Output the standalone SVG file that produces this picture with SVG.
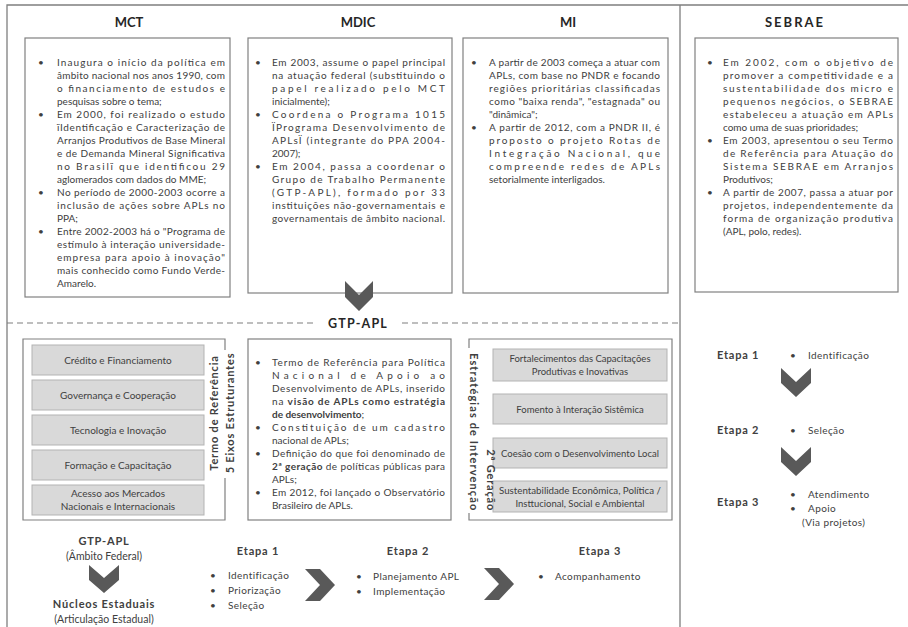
<svg xmlns="http://www.w3.org/2000/svg" width="908" height="627" viewBox="0 0 908 627">
<style>
.frame{stroke:#7f7f7f;stroke-width:1.3;fill:none}
.dash{stroke:#7f7f7f;stroke-width:1.2;stroke-dasharray:6 4;fill:none}
.box{fill:#fff;stroke:#808080;stroke-width:1.2}
.ln{stroke:#808080;stroke-width:1.2;fill:none}
.gbox{fill:#d9d9d9;stroke:#b3b3b3;stroke-width:1}
.t{font-family:Lato,'Liberation Sans',sans-serif;font-size:10px;fill:#404040}
.b{font-weight:bold}
.c{text-anchor:middle}
.h{font-family:Lato,'Liberation Sans',sans-serif;font-size:13px;font-weight:bold;fill:#262626;text-anchor:middle}
.v{font-family:Lato,'Liberation Sans',sans-serif;font-size:11px;font-weight:bold;fill:#404040;letter-spacing:0.8px}
.e{font-family:Lato,'Liberation Sans',sans-serif;font-size:11px;font-weight:bold;fill:#404040;letter-spacing:0.8px}
.chev{fill:#595959}
</style>
<g id="frame">
<path class="frame" d="M7,627 V5 H908 M680,5 V627"/>
<path class="dash" d="M7,323 H316 M402,323 H680"/>
<text class="h" x="358" y="328" style="font-size:12.5px;letter-spacing:1.2px">GTP-APL</text>
</g>
<g id="mct">
<text class="h" x="129" y="27">MCT</text>
<rect class="box" x="25" y="38" width="205" height="259"/>
<g class="t">
<text x="38" y="65.5">•</text><text x="38" y="117.5">•</text><text x="38" y="195.5">•</text><text x="38" y="234.5">•</text>
<text x="57" y="65.5" textLength="168" lengthAdjust="spacing">Inaugura o início da política em</text>
<text x="57" y="78.5" textLength="168" lengthAdjust="spacing">âmbito nacional nos anos 1990, com</text>
<text x="57" y="91.5" textLength="168" lengthAdjust="spacing">o financiamento de estudos e</text>
<text x="57" y="104.5">pesquisas sobre o tema;</text>
<text x="57" y="117.5" textLength="168" lengthAdjust="spacing">Em 2000, foi realizado o estudo</text>
<text x="57" y="130.5" textLength="168" lengthAdjust="spacing">ïIdentificação e Caracterização de</text>
<text x="57" y="143.5" textLength="168" lengthAdjust="spacing">Arranjos Produtivos de Base Mineral</text>
<text x="57" y="156.5" textLength="168" lengthAdjust="spacing">e de Demanda Mineral Significativa</text>
<text x="57" y="169.5" textLength="168" lengthAdjust="spacing">no Brasilï que identificou 29</text>
<text x="57" y="182.5">aglomerados com dados do MME;</text>
<text x="57" y="195.5" textLength="168" lengthAdjust="spacing">No período de 2000-2003 ocorre a</text>
<text x="57" y="208.5" textLength="168" lengthAdjust="spacing">inclusão de ações sobre APLs no</text>
<text x="57" y="221.5">PPA;</text>
<text x="57" y="234.5" textLength="168" lengthAdjust="spacing">Entre 2002-2003 há o "Programa de</text>
<text x="57" y="247.5" textLength="168" lengthAdjust="spacing">estímulo à interação universidade-</text>
<text x="57" y="260.5" textLength="168" lengthAdjust="spacing">empresa para apoio à inovação"</text>
<text x="57" y="273.5" textLength="168" lengthAdjust="spacing">mais conhecido como Fundo Verde-</text>
<text x="57" y="286.5">Amarelo.</text>
</g>
</g>
<g id="mdic">
<text class="h" x="358" y="27">MDIC</text>
<rect class="box" x="248" y="38" width="204" height="255"/>
<g class="t">
<text x="255" y="65.5">•</text><text x="255" y="117.5">•</text><text x="255" y="169.5">•</text>
<text x="272" y="65.5" textLength="173" lengthAdjust="spacing">Em 2003, assume o papel principal</text>
<text x="272" y="78.5" textLength="173" lengthAdjust="spacing">na atuação federal (substituindo o</text>
<text x="272" y="91.5" textLength="173" lengthAdjust="spacing">papel realizado pelo MCT</text>
<text x="272" y="104.5">inicialmente);</text>
<text x="272" y="117.5" textLength="173" lengthAdjust="spacing">Coordena o Programa 1015</text>
<text x="272" y="130.5" textLength="173" lengthAdjust="spacing">ÏPrograma Desenvolvimento de</text>
<text x="272" y="143.5" textLength="173" lengthAdjust="spacing">APLsÏ (integrante do PPA 2004-</text>
<text x="272" y="156.5">2007);</text>
<text x="272" y="169.5" textLength="173" lengthAdjust="spacing">Em 2004, passa a coordenar o</text>
<text x="272" y="182.5" textLength="173" lengthAdjust="spacing">Grupo de Trabalho Permanente</text>
<text x="272" y="195.5" textLength="173" lengthAdjust="spacing">(GTP-APL), formado por 33</text>
<text x="272" y="208.5" textLength="173" lengthAdjust="spacing">instituições não-governamentais e</text>
<text x="272" y="221.5" textLength="173" lengthAdjust="spacing">governamentais de âmbito nacional.</text>
</g>
</g>
<g id="mi">
<text class="h" x="568" y="27">MI</text>
<rect class="box" x="463" y="38" width="205" height="255"/>
<g class="t">
<text x="471" y="65.5">•</text><text x="471" y="130.5">•</text>
<text x="489" y="65.5" textLength="171" lengthAdjust="spacing">A partir de 2003 começa a atuar com</text>
<text x="489" y="78.5" textLength="171" lengthAdjust="spacing">APLs, com base no PNDR e focando</text>
<text x="489" y="91.5" textLength="171" lengthAdjust="spacing">regiões prioritárias classificadas</text>
<text x="489" y="104.5" textLength="171" lengthAdjust="spacing">como "baixa renda", "estagnada" ou</text>
<text x="489" y="117.5">"dinâmica";</text>
<text x="489" y="130.5" textLength="171" lengthAdjust="spacing">A partir de 2012, com a PNDR II, é</text>
<text x="489" y="143.5" textLength="171" lengthAdjust="spacing">proposto o projeto Rotas de</text>
<text x="489" y="156.5" textLength="171" lengthAdjust="spacing">Integração Nacional, que</text>
<text x="489" y="169.5" textLength="171" lengthAdjust="spacing">compreende redes de APLs</text>
<text x="489" y="182.5">setorialmente interligados.</text>
</g>
</g>
<g id="sebrae">
<text class="h" x="795" y="27" style="letter-spacing:2px">SEBRAE</text>
<rect class="box" x="695" y="38" width="203" height="254"/>
<g class="t">
<text x="707" y="65.5">•</text><text x="707" y="143.5">•</text><text x="707" y="195.5">•</text>
<text x="723" y="65.5" textLength="170" lengthAdjust="spacing">Em 2002, com o objetivo de</text>
<text x="723" y="78.5" textLength="170" lengthAdjust="spacing">promover a competitividade e a</text>
<text x="723" y="91.5" textLength="170" lengthAdjust="spacing">sustentabilidade dos micro e</text>
<text x="723" y="104.5" textLength="170" lengthAdjust="spacing">pequenos negócios, o SEBRAE</text>
<text x="723" y="117.5" textLength="170" lengthAdjust="spacing">estabeleceu a atuação em APLs</text>
<text x="723" y="130.5">como uma de suas prioridades;</text>
<text x="723" y="143.5" textLength="170" lengthAdjust="spacing">Em 2003, apresentou o seu Termo</text>
<text x="723" y="156.5" textLength="170" lengthAdjust="spacing">de Referência para Atuação do</text>
<text x="723" y="169.5" textLength="170" lengthAdjust="spacing">Sistema SEBRAE em Arranjos</text>
<text x="723" y="182.5">Produtivos;</text>
<text x="723" y="195.5" textLength="170" lengthAdjust="spacing">A partir de 2007, passa a atuar por</text>
<text x="723" y="208.5" textLength="170" lengthAdjust="spacing">projetos, independentemente da</text>
<text x="723" y="221.5" textLength="170" lengthAdjust="spacing">forma de organização produtiva</text>
<text x="723" y="234.5">(APL, polo, redes).</text>
</g>
</g>
<g id="eixos">
<path class="ln" d="M225,350 V339 H23 V520 H225 V478"/>
<rect class="gbox" x="32" y="345" width="172" height="30"/>
<rect class="gbox" x="32" y="380" width="172" height="30"/>
<rect class="gbox" x="32" y="415" width="172" height="30"/>
<rect class="gbox" x="32" y="450" width="172" height="30"/>
<rect class="gbox" x="32" y="485" width="172" height="30"/>
<g class="t c">
<text x="118" y="363.5">Crédito e Financiamento</text>
<text x="118" y="398.5">Governança e Cooperação</text>
<text x="118" y="433.5">Tecnologia e Inovação</text>
<text x="118" y="468.5">Formação e Capacitação</text>
<text x="118" y="496.5">Acesso aos Mercados</text>
<text x="118" y="509.5">Nacionais e Internacionais</text>
</g>
<text class="v c" transform="translate(218,413) rotate(-90)">Termo de Referência</text>
<text class="v c" transform="translate(234,413) rotate(-90)">5 Eixos Estruturantes</text>
</g>
<g id="gtp">
<rect class="box" x="248" y="339" width="203" height="181"/>
<g class="t">
<text x="255" y="365.5">•</text><text x="255" y="430.5">•</text><text x="255" y="456.5">•</text><text x="255" y="495.5">•</text>
<text x="272" y="365.5" textLength="173" lengthAdjust="spacing">Termo de Referência para Política</text>
<text x="272" y="378.5" textLength="173" lengthAdjust="spacing">Nacional de Apoio ao</text>
<text x="272" y="391.5" textLength="173" lengthAdjust="spacing">Desenvolvimento de APLs, inserido</text>
<text x="272" y="404.5" textLength="173" lengthAdjust="spacing">na <tspan class="b">visão de APLs como estratégia</tspan></text>
<text x="272" y="417.5"><tspan class="b">de desenvolvimento</tspan>;</text>
<text x="272" y="430.5" textLength="173" lengthAdjust="spacing">Constituição de um cadastro</text>
<text x="272" y="443.5">nacional de APLs;</text>
<text x="272" y="456.5" textLength="173" lengthAdjust="spacing">Definição do que foi denominado de</text>
<text x="272" y="469.5" textLength="173" lengthAdjust="spacing"><tspan class="b">2ª geração</tspan> de políticas públicas para</text>
<text x="272" y="482.5">APLs;</text>
<text x="272" y="495.5" textLength="173" lengthAdjust="spacing">Em 2012, foi lançado o Observatório</text>
<text x="272" y="508.5">Brasileiro de APLs.</text>
</g>
</g>
<g id="geracao">
<path class="ln" d="M469,348 V339 H672 V520 H469 V513"/>
<rect class="gbox" x="493" y="349" width="174" height="32"/>
<rect class="gbox" x="493" y="394" width="174" height="30"/>
<rect class="gbox" x="493" y="438" width="174" height="30"/>
<rect class="gbox" x="493" y="481" width="174" height="31"/>
<g class="t c" style="font-size:9.5px">
<text x="580" y="362">Fortalecimentos das Capacitações</text>
<text x="580" y="375">Produtivas e Inovativas</text>
<text x="580" y="412.5">Fomento à Interação Sistêmica</text>
<text x="580" y="456.5">Coesão com o Desenvolvimento Local</text>
<text x="580" y="494" textLength="162" lengthAdjust="spacingAndGlyphs">Sustentabilidade Econômica, Política /</text>
<text x="580" y="507">Insttucional, Social e Ambiental</text>
</g>
<text class="v" text-anchor="end" transform="translate(470,511) rotate(90)" textLength="158" lengthAdjust="spacing">Estratégias de Intervenção</text>
<text class="v" text-anchor="end" transform="translate(487,511) rotate(90)">2ª Geração</text>
</g>
<g id="sebrae-etapas">
<text class="e" x="717" y="359">Etapa 1</text>
<text class="e" x="717" y="434">Etapa 2</text>
<text class="e" x="717" y="506">Etapa 3</text>
<g class="t">
<text x="790" y="359">•</text><text x="808" y="359" style="letter-spacing:0.4px">Identificação</text>
<text x="790" y="434">•</text><text x="808" y="434" style="letter-spacing:0.4px">Seleção</text>
<text x="790" y="498">•</text><text x="808" y="498" style="letter-spacing:0.4px">Atendimento</text>
<text x="790" y="512">•</text><text x="808" y="512" style="letter-spacing:0.4px">Apoio</text>
<text x="802" y="526" style="letter-spacing:0.4px">(Via projetos)</text>
</g>
<polygon class="chev" points="781,368 796,382 811,368 811,383 796,397 781,383"/>
<polygon class="chev" points="781,447 796,461 811,447 811,462 796,476 781,462"/>
</g>
<g id="fluxo">
<text class="e c" x="104" y="545">GTP-APL</text>
<text class="t c" x="104" y="560" style="font-size:10.5px">(Âmbito Federal)</text>
<polygon class="chev" points="89,565 104,578 119,565 119,580 104,593 89,580"/>
<text class="e c" x="104" y="608">Núcleos Estaduais</text>
<text class="t c" x="104" y="623" style="font-size:10.5px">(Articulação Estadual)</text>
<text class="e c" x="258" y="555">Etapa 1</text>
<g class="t" style="letter-spacing:0.4px">
<text x="210" y="579">•</text><text x="228" y="579">Identificação</text>
<text x="210" y="594">•</text><text x="228" y="594">Priorização</text>
<text x="210" y="609">•</text><text x="228" y="609">Seleção</text>
</g>
<polygon class="chev" points="305,569 320,569 335,585 320,601 305,601 320,585"/>
<text class="e c" x="408" y="555">Etapa 2</text>
<g class="t" style="letter-spacing:0.4px">
<text x="356" y="580">•</text><text x="373" y="580">Planejamento APL</text>
<text x="356" y="595">•</text><text x="373" y="595">Implementação</text>
</g>
<polygon class="chev" points="484,568 499,568 514,584 499,600 484,600 499,584"/>
<text class="e c" x="600" y="555">Etapa 3</text>
<g class="t" style="letter-spacing:0.4px">
<text x="538" y="580">•</text><text x="555" y="580">Acompanhamento</text>
</g>
</g>
<g id="connectors">
<polygon class="chev" points="345,281 359,295 373,281 373,297 359,311 345,297"/>
</g>
</svg>
